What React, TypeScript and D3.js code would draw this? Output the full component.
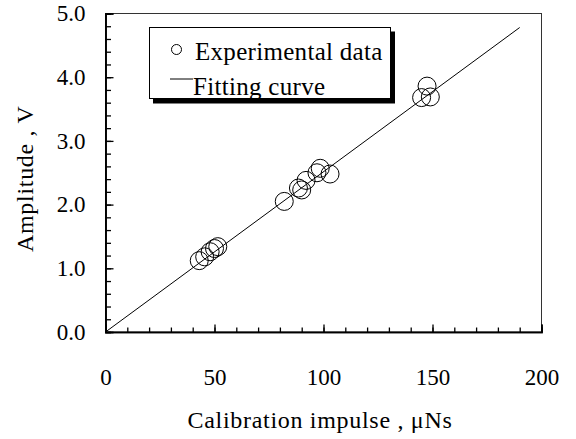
import React, {useRef, useEffect} from 'react';
import * as d3 from 'd3';

const impulse = [43, 45.5, 48, 50, 51.5, 82, 88.5, 90, 92, 97, 98.5, 103, 145, 147.5, 149];
const amplitude = [1.12, 1.18, 1.26, 1.31, 1.34, 2.05, 2.26, 2.23, 2.38, 2.5, 2.57, 2.48, 3.68, 3.86, 3.69];
// fitting curve end points
const fitX = [0, 190];
const fitY = [0, 4.78];
const xTicks = [0, 50, 100, 150, 200];
const yTicks = [0, 1, 2, 3, 4, 5];
const legendLabels = ['Experimental data', 'Fitting curve'];

const W = 576, H = 439;
const m = {left: 105.5, top: 13.5, right: 541.5, bottom: 332};
const FONT = 'Liberation Serif, DejaVu Serif, serif';

const App = () => {
    const svgRef = useRef<SVGSVGElement>(null);

    useEffect(() => {
        const svg = d3.select(svgRef.current);
        svg.selectAll('*').remove();

        const x = d3.scaleLinear().domain([0, 200]).range([m.left, m.right]);
        const y = d3.scaleLinear().domain([0, 5]).range([m.bottom, m.top]);

        // frame (top/right thin)
        svg.append('rect')
            .attr('x', m.left).attr('y', m.top)
            .attr('width', m.right - m.left).attr('height', m.bottom - m.top)
            .attr('fill', 'none').attr('stroke', '#333').attr('stroke-width', 1);

        // minor ticks
        const gx = svg.append('g').attr('transform', `translate(0,${m.bottom})`);
        gx.call(d3.axisBottom(x).tickValues(d3.range(0, 201, 10)).tickSize(-4.5).tickFormat(() => ''));
        const gxMaj = svg.append('g').attr('transform', `translate(0,${m.bottom})`);
        gxMaj.call(d3.axisBottom(x).tickValues(xTicks).tickSize(-7.5).tickPadding(37).tickFormat(d3.format('d')));

        const gy = svg.append('g').attr('transform', `translate(${m.left},0)`);
        gy.call(d3.axisLeft(y).tickValues(d3.range(0, 5.01, 0.2)).tickSize(-5.5).tickFormat(() => ''));
        const gyMaj = svg.append('g').attr('transform', `translate(${m.left},0)`);
        gyMaj.call(d3.axisLeft(y).tickValues(yTicks).tickSize(-8).tickPadding(20).tickFormat(d3.format('.1f')));

        svg.selectAll('.domain').attr('stroke', '#000').attr('stroke-width', 1.6);
        svg.selectAll('.tick line').attr('stroke', '#000').attr('stroke-width', 1.3);
        svg.selectAll('.tick text')
            .attr('font-family', FONT).attr('font-size', 23).attr('fill', '#000');

        // fitting curve
        svg.append('path')
            .datum(fitX.map((v, i) => [v, fitY[i]] as [number, number]))
            .attr('d', d3.line().x(d => x(d[0])).y(d => y(d[1])))
            .attr('fill', 'none').attr('stroke', '#000').attr('stroke-width', 1);

        // points
        svg.append('g').selectAll('circle')
            .data(impulse)
            .join('circle')
            .attr('cx', d => x(d))
            .attr('cy', (d, i) => y(amplitude[i]))
            .attr('r', 9)
            .attr('fill', 'none').attr('stroke', '#000').attr('stroke-width', 1);

        // legend with drop shadow
        const lg = svg.append('g');
        lg.append('rect').attr('x', 153).attr('y', 31.5).attr('width', 242).attr('height', 72).attr('fill', '#000');
        lg.append('rect').attr('x', 149.5).attr('y', 27.5).attr('width', 241).attr('height', 71)
            .attr('fill', '#fff').attr('stroke', '#000').attr('stroke-width', 1);
        lg.append('circle').attr('cx', 176.5).attr('cy', 49.5).attr('r', 5)
            .attr('fill', 'none').attr('stroke', '#000');
        lg.append('line').attr('x1', 170).attr('x2', 193).attr('y1', 79).attr('y2', 79)
            .attr('stroke', '#000');
        lg.selectAll('text')
            .data(legendLabels)
            .join('text')
            .attr('x', (d, i) => i === 0 ? 195 : 193)
            .attr('y', (d, i) => i === 0 ? 60 : 95)
            .attr('font-family', FONT).attr('font-size', 25)
            .attr('letter-spacing', 0.3)
            .text(d => d);

        // axis titles
        svg.append('text')
            .attr('x', 320).attr('y', 428)
            .attr('text-anchor', 'middle')
            .attr('font-family', FONT).attr('font-size', 24)
            .attr('letter-spacing', 0.7)
            .text('Calibration impulse , μNs');
        svg.append('text')
            .attr('transform', `translate(33,${(m.top + m.bottom) / 2 + 6}) rotate(-90)`)
            .attr('text-anchor', 'middle')
            .attr('font-family', FONT).attr('font-size', 24)
            .attr('letter-spacing', 0.7)
            .text('Amplitude , V');
    }, []);

    return (
        <svg ref={svgRef} width={W} height={H}
             style={{position: 'absolute', left: 0, top: 0, background: '#fff'}}/>
    );
};

export default App;
